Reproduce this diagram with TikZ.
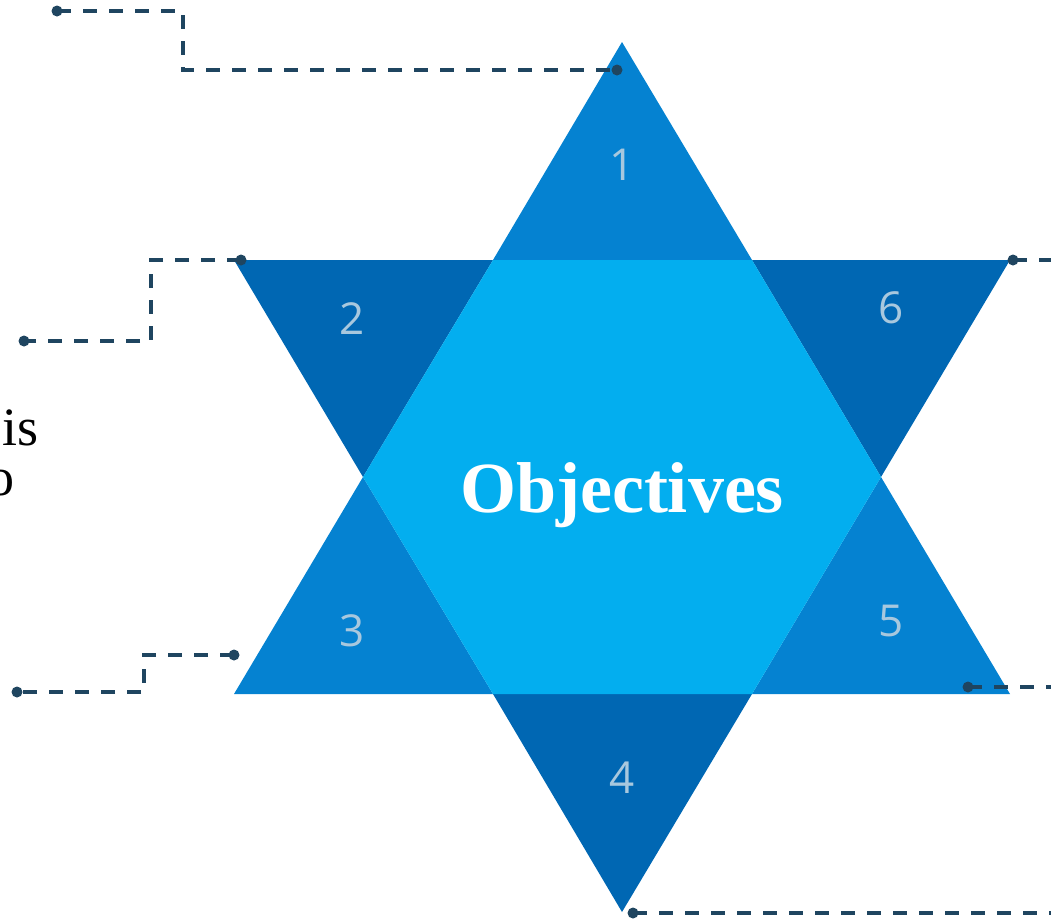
\documentclass[tikz,border=0pt]{standalone}
\usepackage{fontspec}
\setmainfont{Liberation Serif}
\newfontfamily\numfont{Open Sans}
\definecolor{hexcol}{HTML}{03AEEF}
\definecolor{upcol}{HTML}{0582D1}
\definecolor{dncol}{HTML}{0067B3}
\definecolor{numcol}{HTML}{A8C8DE}
\definecolor{linecol}{HTML}{1F4560}
\begin{document}
\begin{tikzpicture}[x=1pt,y=-1pt,
  num/.style={text=numcol,font=\numfont\fontsize{44}{44}\selectfont,inner sep=0pt},
  conn/.style={draw=linecol,line width=3.4pt,dash pattern=on 14pt off 12pt},
  pin/.style={fill=linecol,draw=none}]
\clip (0,0) rectangle (1051,919);
% star points
\coordinate (T) at (622,42);
\coordinate (B) at (622,912);
\coordinate (UL) at (234,260);
\coordinate (UR) at (1010,260);
\coordinate (LL) at (234,694);
\coordinate (LR) at (1010,694);
\coordinate (H1) at (493,260);
\coordinate (H2) at (752,260);
\coordinate (H3) at (881,477);
\coordinate (H4) at (752,694);
\coordinate (H5) at (493,694);
\coordinate (H6) at (363,477);
% triangles
\fill[upcol] (T) -- (H2) -- (H1) -- cycle;
\fill[dncol] (UL) -- (H1) -- (H6) -- cycle;
\fill[upcol] (LL) -- (H6) -- (H5) -- cycle;
\fill[dncol] (B) -- (H5) -- (H4) -- cycle;
\fill[upcol] (LR) -- (H4) -- (H3) -- cycle;
\fill[dncol] (UR) -- (H3) -- (H2) -- cycle;
\fill[hexcol] (H1) -- (H2) -- (H3) -- (H4) -- (H5) -- (H6) -- cycle;
% labels
\node[num] (n1) at (622,165) {1};
\node[num] (n2) at (352,319) {2};
\node[num] (n6) at (891,308) {6};
\node[num] (n3) at (352,631) {3};
\node[num] (n5) at (891,621) {5};
\node[num] (n4) at (622,778) {4};
\node[text=white,font=\bfseries\fontsize{72}{72}\selectfont,inner sep=0pt] (obj) at (622,495) {Objectives};
\node[anchor=base west,inner sep=0pt,font=\fontsize{54}{54}\selectfont] (is) at (2,445) {is};
\node[anchor=base east,inner sep=0pt,font=\fontsize{54}{54}\selectfont] (o) at (15,495) {o};
% connector ends
\coordinate (a1) at (57,11);
\coordinate (a2) at (617,70);
\coordinate (b1) at (241,260);
\coordinate (b2) at (24,341);
\coordinate (c1) at (234,655);
\coordinate (c2) at (17,692);
\coordinate (d1) at (1013,260);
\coordinate (d2) at (1060,260);
\coordinate (e1) at (968,687);
\coordinate (e2) at (1060,687);
\coordinate (f1) at (633,913);
\coordinate (f2) at (1060,913);
\draw[conn] (a1) -| (183,40) |- (a2);
\draw[conn] (b1) -| (151,300) |- (b2);
\draw[conn] (c1) -| (144,670) |- (c2);
\draw[conn] (d1) -- (d2);
\draw[conn] (e1) -- (e2);
\draw[conn] (f1) -- (f2);
\foreach \p in {a1,a2,b1,b2,c1,c2,d1,e1,f1} \fill[pin] (\p) circle (5.5);
\end{tikzpicture}
\end{document}
